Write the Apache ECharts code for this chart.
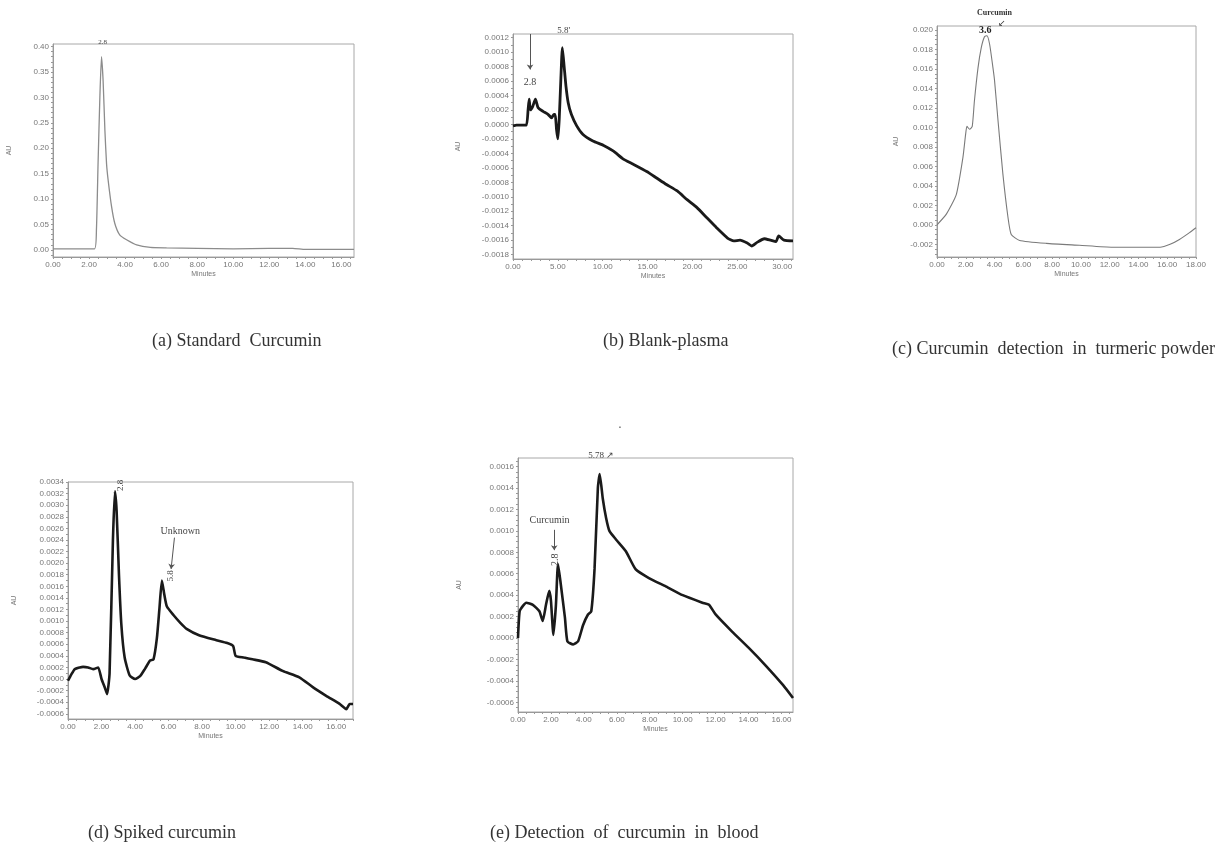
<!DOCTYPE html>
<html>
<head>
<meta charset="utf-8">
<script src="https://cdn.jsdelivr.net/npm/echarts@6/dist/echarts.min.js"></script>
<style>
html, body { margin: 0; padding: 0; background: #fff; }
#chart { width: 1230px; height: 846px; }
</style>
</head>
<body>
<div id="chart"></div>
<script>
// (a) standard curcumin
var stdTime = [0, 2.3, 2.41, 2.5, 2.6, 2.69, 2.78, 2.88, 2.97, 3.06, 3.25, 3.43, 3.71, 4.08, 4.64, 5.4, 6.3, 8.0, 10.0, 12.0, 13.3, 14.0, 16.7];
var stdAU   = [0.002, 0.002, 0.04, 0.17, 0.30, 0.38, 0.333, 0.235, 0.17, 0.137, 0.085, 0.052, 0.029, 0.02, 0.01, 0.005, 0.004, 0.003, 0.002, 0.003, 0.003, 0.001, 0.001];

// (b) blank plasma
var blankTime = [0, 0.4, 1.0, 1.5, 1.68, 1.8, 1.94, 2.2, 2.5, 2.8, 3.35, 3.9, 4.3, 4.55, 4.7, 4.85, 5.0, 5.15, 5.33, 5.5, 5.7, 5.9, 6.15, 6.5, 7.1, 7.8, 8.9, 10.1, 11.2, 12.3, 13.4, 14.9, 16.0, 17.1, 18.3, 19.4, 20.5, 21.6, 22.7, 23.9, 24.6, 25.3, 26.1, 26.6, 27.2, 28.0, 28.7, 29.3, 29.6, 30.2, 31.2];
var blankAU   = [-0.00002, -0.00001, -0.00001, -0.00001, 0.0002, 0.00035, 0.0002, 0.00025, 0.00035, 0.00023, 0.00018, 0.00014, 0.00009, 0.00014, 0.00014, -0.00007, -0.0002, 0.00007, 0.00062, 0.00106, 0.0008, 0.00053, 0.0003, 0.00014, -0.00002, -0.00014, -0.00023, -0.00029, -0.00037, -0.00048, -0.00055, -0.00065, -0.00074, -0.00083, -0.00092, -0.00104, -0.00115, -0.00129, -0.00143, -0.00157, -0.00161, -0.0016, -0.00164, -0.00168, -0.00163, -0.00158, -0.0016, -0.00162, -0.00154, -0.0016, -0.00161];

// (c) turmeric powder
var powderTime = [0, 0.65, 1.34, 1.8, 1.99, 2.08, 2.27, 2.45, 2.6, 2.85, 3.08, 3.3, 3.47, 3.66, 3.89, 4.0, 4.24, 4.58, 4.93, 5.16, 5.74, 7.6, 9.9, 12.2, 14.0, 15.5, 16.2, 16.85, 17.55, 18.0];
var powderAU   = [0.0, 0.0011, 0.0031, 0.0069, 0.0093, 0.0101, 0.0098, 0.0101, 0.0127, 0.0161, 0.0182, 0.0193, 0.0194, 0.0185, 0.0161, 0.0148, 0.0107, 0.0052, 0.0008, -0.001, -0.0016, -0.0019, -0.0021, -0.0023, -0.0023, -0.0023, -0.002, -0.0015, -0.0008, -0.0003];

// (d) spiked curcumin
var spikedTime = [0, 0.2, 0.4, 0.7, 0.9, 1.2, 1.5, 1.8, 2.0, 2.2, 2.33, 2.48, 2.68, 2.8, 2.9, 3.04, 3.18, 3.38, 3.68, 4.0, 4.3, 4.6, 4.9, 5.1, 5.3, 5.45, 5.6, 5.75, 5.9, 6.3, 6.7, 7.1, 7.85, 8.85, 9.5, 9.85, 10.0, 10.5, 11.0, 11.8, 12.8, 13.8, 14.6, 15.4, 16.2, 16.6, 16.8, 17.0];
var spikedAU   = [-0.00003, 0.00008, 0.00017, 0.0002, 0.00021, 0.0002, 0.00017, 0.0002, 0.0, -0.00015, -0.00026, 0.0001, 0.0024, 0.00324, 0.0029, 0.0018, 0.00095, 0.00037, 0.00006, 0.0, 0.00005, 0.00018, 0.00032, 0.00034, 0.0007, 0.0012, 0.0017, 0.00145, 0.00125, 0.0011, 0.00097, 0.00086, 0.00075, 0.00067, 0.00062, 0.00057, 0.0004, 0.00037, 0.00034, 0.00029, 0.00014, 0.00003, -0.00014, -0.00029, -0.00043, -0.00052, -0.00043, -0.00043];

// (e) blood
var bloodTime = [0, 0.1, 0.3, 0.5, 0.9, 1.3, 1.5, 1.7, 1.9, 2.0, 2.15, 2.3, 2.43, 2.6, 2.85, 3.0, 3.35, 3.65, 3.95, 4.25, 4.45, 4.65, 4.85, 4.96, 5.15, 5.35, 5.55, 5.95, 6.55, 7.15, 7.95, 9.0, 10.0, 11.2, 11.6, 12.0, 13.0, 14.0, 15.0, 16.1, 16.7];
var bloodAU   = [0.0, 0.00025, 0.0003, 0.00033, 0.00031, 0.00025, 0.00016, 0.00031, 0.00044, 0.00035, 0.00003, 0.0003, 0.00069, 0.0005, 0.00019, -0.00003, -0.00006, -0.00003, 0.00012, 0.00022, 0.00025, 0.00065, 0.0014, 0.00153, 0.0013, 0.00112, 0.001, 0.00092, 0.00081, 0.00064, 0.00056, 0.00048, 0.0004, 0.00033, 0.00031, 0.00022, 0.00006, -0.00009, -0.00025, -0.00044, -0.00056];

// tick labels
var xLab2  = [0, 2, 4, 6, 8, 10, 12, 14, 16];
var xLab5  = [0, 5, 10, 15, 20, 25, 30];
var xLab18 = [0, 2, 4, 6, 8, 10, 12, 14, 16, 18];
var yLabA = [0, 0.05, 0.10, 0.15, 0.20, 0.25, 0.30, 0.35, 0.40];
var yLabB = [-0.0018, -0.0016, -0.0014, -0.0012, -0.0010, -0.0008, -0.0006, -0.0004, -0.0002, 0, 0.0002, 0.0004, 0.0006, 0.0008, 0.0010, 0.0012];
var yLabC = [-0.002, 0, 0.002, 0.004, 0.006, 0.008, 0.010, 0.012, 0.014, 0.016, 0.018, 0.020];
var yLabD = [-0.0006, -0.0004, -0.0002, 0, 0.0002, 0.0004, 0.0006, 0.0008, 0.0010, 0.0012, 0.0014, 0.0016, 0.0018, 0.0020, 0.0022, 0.0024, 0.0026, 0.0028, 0.0030, 0.0032, 0.0034];
var yLabE = [-0.0006, -0.0004, -0.0002, 0, 0.0002, 0.0004, 0.0006, 0.0008, 0.0010, 0.0012, 0.0014, 0.0016];

var captions = ['(a) Standard  Curcumin', '(b) Blank-plasma', '(c) Curcumin  detection  in  turmeric powder', '(d) Spiked curcumin', '(e) Detection  of  curcumin  in  blood'];

function pairs(t, v) {
    return t.map(function (x, i) { return [x, v[i]]; });
}
function steps(a, b, s) {
    var out = [];
    for (var k = Math.ceil(a / s - 1e-6); k <= Math.floor(b / s + 1e-6); k++) out.push(+(k * s).toFixed(6));
    return out;
}
// text note at a data point; dy shifts it up (pixels) for notes above the frame
function note(x, y, text, size, extra, dy) {
    var lab = { show: true, position: 'inside', formatter: text, fontSize: size || 9, color: '#444',
        fontFamily: 'Liberation Serif', offset: [0, -(dy || 0)] };
    if (extra) for (var k in extra) lab[k] = extra[k];
    return { coord: [x, y], symbol: 'circle', symbolSize: 0, label: lab };
}

var panels = [
    { grid: { left: 53, top: 44, width: 301, height: 213 }, x: [0, 16.7], xLab: xLab2, xStep: 0.5,
      y: [-0.014, 0.405], yLab: yLabA, yStep: 0.01, dec: 2, gap: 40,
      data: pairs(stdTime, stdAU), color: '#8c8c8c', lw: 1.3,
      notes: [note(2.75, 0.405, '2.8', 7, null, 2)], arrows: [] },
    { grid: { left: 513, top: 34, width: 280, height: 225 }, x: [0, 31.2], xLab: xLab5, xStep: 1,
      y: [-0.00186, 0.00125], yLab: yLabB, yStep: 0.0001, dec: 4, gap: 51,
      data: pairs(blankTime, blankAU), color: '#1a1a1a', lw: 2.8,
      notes: [note(1.9, 0.00058, '2.8', 10), note(5.65, 0.00125, '5.8\'', 9, null, 3)],
      arrows: [[{ coord: [1.9, 0.00125] }, { coord: [1.9, 0.00076] }]] },
    { grid: { left: 937, top: 26, width: 259, height: 231 }, x: [0, 18], xLab: xLab18, xStep: 0.5,
      y: [-0.0033, 0.0204], yLab: yLabC, yStep: 0.0005, dec: 3, gap: 37,
      data: pairs(powderTime, powderAU), color: '#7a7a7a', lw: 1.1,
      notes: [note(4.0, 0.0204, 'Curcumin', 8, { fontWeight: 'bold', color: '#333' }, 13),
              note(3.35, 0.0199, '3.6', 10, { fontWeight: 'bold', color: '#222' }),
              note(4.5, 0.0204, '\u2199', 9, { color: '#333' }, 2)],
      arrows: [] },
    { grid: { left: 68, top: 482, width: 285, height: 237 }, x: [0, 17], xLab: xLab2, xStep: 0.5,
      y: [-0.00069, 0.0034], yLab: yLabD, yStep: 0.0001, dec: 4, gap: 50,
      data: pairs(spikedTime, spikedAU), color: '#1a1a1a', lw: 2.6,
      notes: [note(3.15, 0.00334, '2.8', 9, { rotate: 90 }), note(6.7, 0.00255, 'Unknown', 10),
              note(6.1, 0.00178, '5.8', 9, { rotate: 90 })],
      arrows: [[{ coord: [6.35, 0.00244] }, { coord: [6.15, 0.0019] }]] },
    { grid: { left: 518, top: 458, width: 275, height: 254 }, x: [0, 16.7], xLab: xLab2, xStep: 0.5,
      y: [-0.00069, 0.00168], yLab: yLabE, yStep: 0.00005, dec: 4, gap: 55,
      data: pairs(bloodTime, bloodAU), color: '#1a1a1a', lw: 2.6,
      notes: [note(1.92, 0.0011, 'Curcumin', 10), note(2.3, 0.00073, '2.8', 10, { rotate: 90 }),
              note(5.05, 0.00168, '5.78 \u2197', 9, null, 2)],
      arrows: [[{ coord: [2.2, 0.00101] }, { coord: [2.2, 0.00082] }]] }
];

var option = {
    animation: false,
    backgroundColor: '#fff',
    title: [], grid: [], xAxis: [], yAxis: [], series: []
};

var capPos = [[147, 327], [598, 327], [887, 335], [83, 819], [485, 819]];
captions.forEach(function (c, i) {
    option.title.push({ text: c, left: capPos[i][0], top: capPos[i][1],
        textStyle: { fontFamily: 'Liberation Serif', fontSize: 18, fontWeight: 'normal', color: '#333' } });
});
option.title.push({ text: '.', left: 613, top: 412, textStyle: { fontSize: 14, color: '#666', fontWeight: 'normal' } });

var tickFont = { fontSize: 8, color: '#777', fontFamily: 'Liberation Sans' };

panels.forEach(function (p, i) {
    var g = p.grid;
    option.grid.push({ left: g.left, top: g.top, width: g.width, height: g.height,
        show: true, borderColor: '#a8a8a8', borderWidth: 1, containLabel: false });
    option.xAxis.push({
        type: 'value', gridIndex: i, min: p.x[0], max: p.x[1],
        name: 'Minutes', nameLocation: 'middle', nameGap: 14,
        nameTextStyle: { fontSize: 7, color: '#777' },
        axisLine: { onZero: false, lineStyle: { color: '#999' } },
        axisTick: { customValues: steps(p.x[0], p.x[1], p.xStep), length: 2, lineStyle: { color: '#999' } },
        axisLabel: Object.assign({ customValues: p.xLab, margin: 4,
            formatter: function (v) { return v.toFixed(2); } }, tickFont),
        splitLine: { show: false }
    });
    option.yAxis.push({
        type: 'value', gridIndex: i, min: p.y[0], max: p.y[1],
        name: 'AU', nameLocation: 'middle', nameGap: p.gap, nameRotate: 90,
        nameTextStyle: { fontSize: 7, color: '#777' },
        axisLine: { show: true, onZero: false, lineStyle: { color: '#999' } },
        axisTick: { customValues: steps(p.y[0], p.y[1], p.yStep), length: 2, lineStyle: { color: '#999' } },
        axisLabel: Object.assign({ customValues: p.yLab, margin: 4,
            formatter: function (v) { return v.toFixed(p.dec); } }, tickFont),
        splitLine: { show: false }
    });
    option.series.push({
        type: 'line', xAxisIndex: i, yAxisIndex: i, data: p.data,
        showSymbol: false, clip: false, smooth: 0.18,
        lineStyle: { color: p.color, width: p.lw },
        markPoint: { silent: true, data: p.notes },
        markLine: { silent: true, symbol: ['none', 'arrow'], symbolSize: 5,
            lineStyle: { color: '#555', width: 1, type: 'solid' }, label: { show: false },
            data: p.arrows }
    });
});

var chart = echarts.init(document.getElementById('chart'));
chart.setOption(option);
</script>
</body>
</html>
